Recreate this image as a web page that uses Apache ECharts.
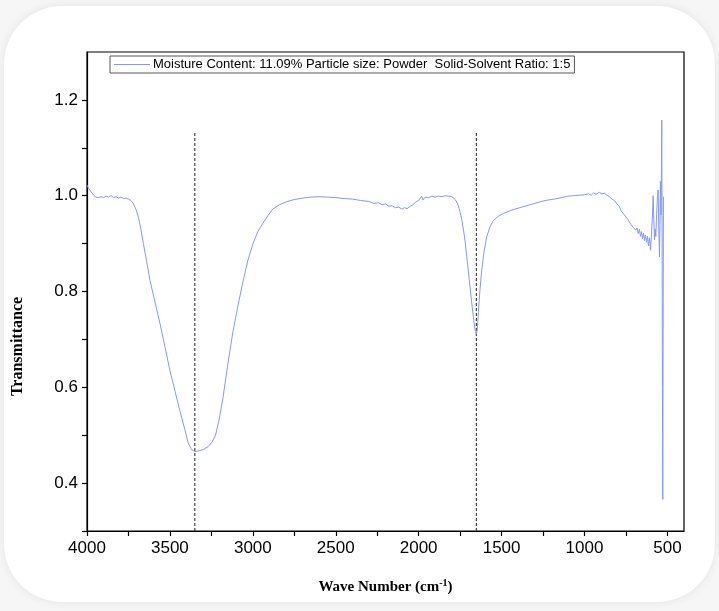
<!DOCTYPE html>
<html>
<head>
<meta charset="utf-8">
<script src="https://cdn.jsdelivr.net/npm/echarts@6/dist/echarts.min.js"></script>
<style>
html, body { margin: 0; padding: 0; background: #f6f6f6; }
#card {
    position: absolute; left: 4px; top: 6px; width: 711px; height: 596px;
    background: #fff; border-radius: 58px;
    box-shadow: 0 0 10px rgba(0, 0, 0, 0.08);
}
#main { position: absolute; left: 0; top: 0; width: 719px; height: 611px; }
</style>
</head>
<body>
<div id="card"></div>
<div id="main"></div>
<script>
// spectrum: [wave number, transmittance]
var spectrum = [
    [4000,1.022],[3990,1.015],[3975,1.008],[3960,1.001],[3945,0.997],[3930,0.996],[3915,0.998],[3900,0.996],
    [3885,0.999],[3870,0.997],[3855,1.000],[3840,0.996],[3825,0.998],[3810,0.995],[3795,0.997],[3780,0.994],
    [3765,0.995],[3750,0.993],[3735,0.990],[3720,0.983],[3705,0.972],[3690,0.955],[3675,0.930],[3660,0.900],
    [3640,0.862],[3620,0.823],[3590,0.778],[3560,0.733],[3530,0.685],[3500,0.635],[3470,0.593],[3440,0.551],
    [3410,0.512],[3390,0.484],[3370,0.470],[3350,0.466],[3330,0.467],[3300,0.470],[3270,0.476],[3245,0.486],
    [3225,0.500],[3205,0.530],[3180,0.578],[3150,0.650],[3120,0.716],[3090,0.770],[3060,0.820],[3030,0.865],
    [3000,0.899],[2970,0.925],[2940,0.942],[2910,0.958],[2880,0.972],[2840,0.981],[2800,0.987],[2750,0.992],
    [2700,0.995],[2650,0.997],[2600,0.998],[2550,0.997],[2500,0.996],[2450,0.994],[2400,0.993],[2350,0.990],
    [2300,0.988],[2270,0.984],[2240,0.985],[2220,0.981],[2200,0.983],[2180,0.978],[2160,0.979],[2140,0.975],
    [2120,0.976],[2100,0.972],[2085,0.975],[2070,0.973],[2050,0.978],[2035,0.981],[2020,0.986],[2010,0.983],
    [2000,0.990],[1990,0.987],[1982,0.999],[1975,0.991],[1960,0.997],[1940,0.996],[1920,0.999],[1900,0.997],
    [1880,0.999],[1860,0.998],[1840,1.000],[1820,0.999],[1800,0.998],[1785,0.994],[1770,0.987],[1755,0.973],
    [1740,0.950],[1725,0.918],[1710,0.873],[1695,0.825],[1680,0.776],[1668,0.740],[1658,0.716],[1652,0.711],
    [1646,0.722],[1640,0.757],[1630,0.805],[1620,0.844],[1605,0.885],[1590,0.914],[1570,0.935],[1550,0.948],
    [1520,0.957],[1490,0.963],[1460,0.967],[1420,0.972],[1380,0.976],[1340,0.980],[1300,0.984],[1260,0.988],
    [1220,0.991],[1180,0.993],[1140,0.996],[1100,0.999],[1060,1.000],[1030,1.001],[1000,1.002],[975,1.004],
    [960,1.001],[945,1.006],[930,1.003],[910,1.007],[895,1.004],[880,1.005],[865,1.001],[850,0.998],
    [835,0.993],[820,0.990],[805,0.983],[790,0.978],[780,0.969],[770,0.968],[760,0.960],[750,0.958],
    [740,0.951],[730,0.947],[720,0.940],[712,0.942],[705,0.933],[698,0.936],[690,0.928],[683,0.933],
    [676,0.921],[669,0.930],[662,0.915],[656,0.925],[650,0.910],[644,0.922],[638,0.906],[632,0.918],
    [626,0.903],[620,0.915],[614,0.895],[608,0.912],[602,0.886],[596,0.920],[590,0.960],[586,1.000],
    [582,0.950],[578,0.908],[574,0.930],[570,0.915],[565,0.960],[560,1.000],[556,1.012],[552,0.935],
    [548,0.872],[545,0.940],[542,1.030],[539,0.960],[536,1.060],[534,1.158],[532,0.900],[530,0.600],
    [528,0.366],[526,0.700],[524,0.998],[522,0.998]
];

var peakPositions = [3350, 1652];   // dashed marker lines
var markerTop = 1.133;

var xMajor = [4000, 3500, 3000, 2500, 2000, 1500, 1000, 500];
var xTicks = [4000, 3750, 3500, 3250, 3000, 2750, 2500, 2250, 2000, 1750, 1500, 1250, 1000, 750, 500];
var yMajor = [0.4, 0.6, 0.8, 1.0, 1.2];
var yTicks = [0.3, 0.4, 0.5, 0.6, 0.7, 0.8, 0.9, 1.0, 1.1, 1.2];

var legendName = 'Moisture Content: 11.09% Particle size: Powder  Solid-Solvent Ratio: 1:5';

var myChart = echarts.init(document.getElementById('main'));

var series = [{
    name: legendName,
    type: 'line',
    data: spectrum,
    showSymbol: false,
    symbol: 'none',
    lineStyle: { color: '#8596ff', width: 1 },
    itemStyle: { color: '#8596ff' },
    z: 3
}];
peakPositions.forEach(function (p) {
    series.push({
        type: 'line',
        data: [[p, 0.3], [p, markerTop]],
        symbol: 'none',
        lineStyle: { color: '#444', width: 1.2, type: [3, 2] },
        z: 2
    });
});

var option = {
    animation: false,
    grid: {
        left: 87, right: 35, top: 52, bottom: 80,
        show: true, borderColor: '#000', borderWidth: 1.2
    },
    legend: {
        data: [legendName],
        left: 110, top: 56,
        padding: [2, 4, 2, 4],
        borderColor: '#555', borderWidth: 1,
        icon: 'rect',
        itemWidth: 36, itemHeight: 1,
        itemGap: 4,
        textStyle: { fontFamily: 'Liberation Sans, Arial', fontSize: 13, color: '#000', padding: [0, 0, 0, -2] }
    },
    xAxis: {
        type: 'value',
        min: 400, max: 4000,
        inverse: true,
        name: 'Wave Number (cm{sup|-1})',
        nameLocation: 'middle',
        nameGap: 47,
        nameTextStyle: {
            fontFamily: 'Liberation Serif, Times New Roman', fontWeight: 'bold', fontSize: 15, color: '#000',
            rich: { sup: { fontFamily: 'Liberation Serif', fontWeight: 'bold', fontSize: 10, verticalAlign: 'top', padding: [0, 0, 9, 0] } }
        },
        axisLine: { lineStyle: { color: '#000', width: 1.2 } },
        axisTick: { customValues: xTicks, length: 5, lineStyle: { color: '#000', width: 1.2 } },
        axisLabel: {
            customValues: xMajor,
            formatter: function (v) { return String(v); },
            fontFamily: 'Liberation Sans, Arial', fontSize: 17, color: '#000', margin: 9
        },
        splitLine: { show: false }
    },
    yAxis: {
        type: 'value',
        min: 0.3, max: 1.3,
        name: 'Transmittance',
        nameLocation: 'middle',
        nameGap: 61,
        nameTextStyle: {
            fontFamily: 'Liberation Serif, Times New Roman', fontWeight: 'bold', fontSize: 16, color: '#000',
            padding: [0, 110, 0, 0]
        },
        axisLine: { show: true, lineStyle: { color: '#000', width: 1.2 } },
        axisTick: { show: true, customValues: yTicks, length: 5, lineStyle: { color: '#000', width: 1.2 } },
        axisLabel: {
            customValues: yMajor,
            formatter: function (v) { return v.toFixed(1); },
            fontFamily: 'Liberation Sans, Arial', fontSize: 17, color: '#000', margin: 9
        },
        splitLine: { show: false }
    },
    series: series
};
myChart.setOption(option);
</script>
</body>
</html>
